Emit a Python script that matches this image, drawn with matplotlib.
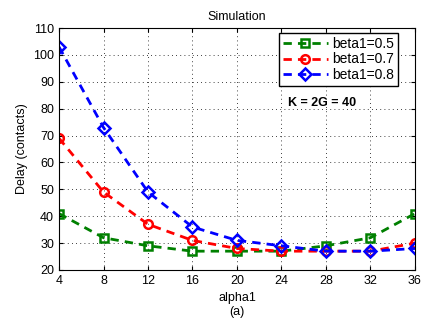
import matplotlib
matplotlib.use("Agg")
import matplotlib.pyplot as plt

alpha1 = [4, 8, 12, 16, 20, 24, 28, 32, 36]
beta05 = [41, 32, 29, 27, 27, 27, 29, 32, 41]
beta07 = [69, 49, 37, 31, 28, 27, 27, 27, 30]
beta08 = [103, 73, 49, 36, 31, 29, 27, 27, 28]
labels = ["beta1=0.5", "beta1=0.7", "beta1=0.8"]

plt.rcParams['font.family'] = ['Liberation Sans', 'DejaVu Sans']
plt.rcParams['font.size'] = 9

fig = plt.figure(figsize=(4.23, 3.26), dpi=100)
ax = fig.add_axes([0.1395, 0.1718, 0.8415, 0.7422])

kw = dict(linestyle=(0, (3, 2.2)), linewidth=2, markersize=6.2, markerfacecolor='none', markeredgewidth=1.8)
ax.plot(alpha1, beta05, color='#008000', marker='s', label=labels[0], **kw)
ax.plot(alpha1, beta07, color='#ff0000', marker='o', label=labels[1], **kw)
ax.plot(alpha1, beta08, color='#0000ff', marker='D', label=labels[2], **dict(kw, markersize=5.8))

ax.set_xlim(4, 36)
ax.set_ylim(20, 110)
ax.set_xticks(alpha1)
ax.set_yticks(range(20, 111, 10))
ax.grid(True, linestyle=(0, (1, 4)), color='black', linewidth=0.6)
ax.tick_params(direction='in', top=True, right=True, length=3)
for s in ax.spines.values():
    s.set_linewidth(0.8)

ax.set_title("Simulation", fontsize=9)
ax.set_xlabel("alpha1\n(a)", fontsize=9, linespacing=1.2)
ax.set_ylabel("Delay (contacts)", fontsize=9)

leg = ax.legend(loc='upper right', bbox_to_anchor=(0.952, 0.98), borderaxespad=0,
                fancybox=False, framealpha=1, edgecolor='black',
                handlelength=3.2, handletextpad=0.3, labelspacing=0.1, fontsize=10,
                borderpad=0.3)
leg.get_frame().set_linewidth(1.0)

ax.text(24.6, 82.0, "K = 2G = 40", fontweight='bold', fontsize=9, va='center')

fig.savefig("out.png", dpi=100)
